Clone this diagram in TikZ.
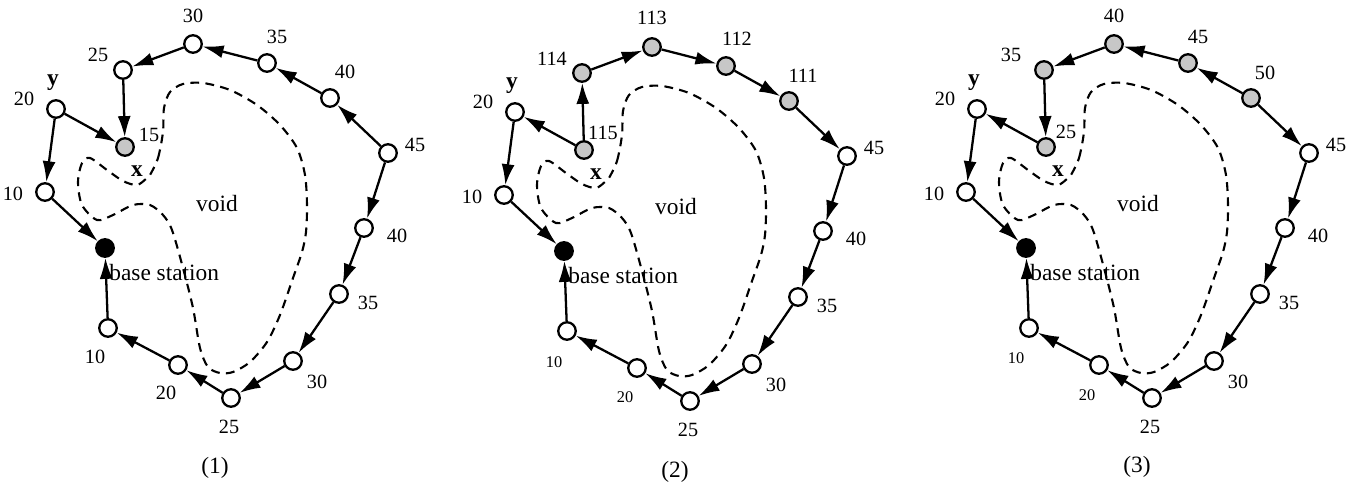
\documentclass[tikz,border=0pt]{standalone}
\usepackage{fontspec}
\setmainfont{Liberation Serif}
\usetikzlibrary{arrows.meta}

\tikzset{
    sensor/.style={circle, draw, line width=1.3pt, fill=white, minimum size=0.35cm, inner sep=0pt},
    hit/.style={sensor, fill=black!22},
    sink/.style={sensor, fill=black},
    ring/.style={sensor},
    link/.style={-{Latex[length=4.2mm,width=2.6mm]}, line width=1.3pt},
    hole/.style={line width=1.2pt, dash pattern=on 5pt off 3.6pt},
    num/.style={inner sep=0pt, font=\fontsize{11.5}{13}\selectfont},
    small/.style={inner sep=0pt, font=\fontsize{9.3}{11}\selectfont},
    big/.style={inner sep=0pt, font=\fontsize{13.3}{15}\selectfont},
    tagtext/.style={inner sep=0pt, font=\fontsize{13.3}{15}\selectfont\bfseries}
}

% common part of the three panels (nodes, void, fixed paths)
\newcommand{\voidfield}{%
    % Void
    \draw[hole] plot[smooth cycle] coordinates {
        (150,175) (158,158) (163,132) (164,108) (170,92) (183,84) (203,83)
        (230,90) (257,105) (280,125) (297,148) (305,175) (307,205) (306,232)
        (302,252) (293,278) (280,315) (267,342) (250,362) (233,372) (220,373)
        (208,367) (200,348) (193,308) (183,268) (172,230) (163,215) (150,205)
        (133,205) (113,215) (97,220) (82,205) (78,182) (82,163) (90,158)
        (107,170) (123,181) (137,185) (147,178)};
    \node[big]     (void) at (217,204) {void};
    \node[tagtext] (x)    at (137,171) {x};
    % Sensors
    \node[sensor] (y)   at (56,109)  {};
    \node[sensor] (l10) at (45,192)  {};
    \node[hit]    (g15) at (125,147) {};
    \node[ring]   (t25) at (123,70)  {};
    \node[ring]   (t30) at (193,44)  {};
    \node[ring]   (t35) at (267,63)  {};
    \node[ring]   (t40) at (330,98)  {};
    \node[sensor] (r45) at (388,153) {};
    \node[sensor] (r40) at (364,228) {};
    \node[sensor] (r35) at (339,294) {};
    \node[sensor] (r30) at (293,361) {};
    \node[sensor] (r25) at (231,398) {};
    \node[sensor] (r20) at (178,365) {};
    \node[sensor] (r10) at (108,328) {};
    \node[sink]   (bs)  at (105,248) {};
    \node[big, anchor=west] (bslabel) at (109,273) {base station};
    % Fixed labels
    \node[tagtext] (ylabel) at (53,83)   {y};
    \node[num]     (n20)    at (24,99)   {20};
    \node[num]     (n10)    at (13,194)  {10};
    \node[num]     (nr45)   at (415,145) {45};
    \node[num]     (nr40)   at (397,236) {40};
    \node[num]     (nr35)   at (368,303) {35};
    \node[num]     (nr30)   at (317,382) {30};
    \node[num]     (nr25)   at (229,427) {25};
    % Fixed paths
    \draw[link] (y) -- (l10);
    \draw[link] (l10) -- (bs);
    \foreach \from/\to in {r45/r40,r40/r35,r35/r30,r30/r25,r25/r20,r20/r10,r10/bs}
        \draw[link] (\from) -- (\to);
}

\begin{document}
\begin{tikzpicture}[x=0.02cm, y=-0.02cm]
    \useasboundingbox (0,0) rectangle (1359,486);

    % Panel (1)
    \begin{scope}[name prefix=p1-]
        \voidfield
        \node[num] (n15) at (149,135) {15};
        \node[num] (n25) at (98,55)   {25};
        \node[num] (n30) at (193,16)  {30};
        \node[num] (n35) at (277,37)  {35};
        \node[num] (n40) at (345,72)  {40};
        \node[num] (b20) at (166,393) {20};
        \node[num] (b10) at (95,357)  {10};
        \foreach \from/\to in {r45/t40,t40/t35,t35/t30,t30/t25,t25/g15,y/g15}
            \draw[link] (\from) -- (\to);
        \node[big] (cap) at (215,468) {(1)};
    \end{scope}

    % Panel (2)
    \begin{scope}[shift={(459,3)}, name prefix=p2-, ring/.style={hit}]
        \voidfield
        \node[num] (n115) at (144,130) {115};
        \node[num] (n114) at (93,56)   {114};
        \node[num] (n113) at (193,15)  {113};
        \node[num] (n112) at (278,36)  {112};
        \node[num] (n111) at (344,73)  {111};
        \node[small] (b20) at (166,394) {20};
        \node[small] (b10) at (95,359)  {10};
        \foreach \from/\to in {g15/t25,t25/t30,t30/t35,t35/t40,t40/r45,g15/y}
            \draw[link] (\from) -- (\to);
        \node[big] (cap) at (216,469) {(2)};
    \end{scope}

    % Panel (3)
    \begin{scope}[shift={(921,0)}, name prefix=p3-, ring/.style={hit}]
        \voidfield
        \node[num] (n25) at (145,132) {25};
        \node[num] (n35) at (90,55)   {35};
        \node[num] (n40) at (193,16)  {40};
        \node[num] (n45) at (277,37)  {45};
        \node[num] (n50) at (344,73)  {50};
        \node[small] (b20) at (166,395) {20};
        \node[small] (b10) at (95,358)  {10};
        \foreach \from/\to in {t40/t35,t35/t30,t30/t25,t25/g15,g15/y,t40/r45}
            \draw[link] (\from) -- (\to);
        \node[big] (cap) at (216,467) {(3)};
    \end{scope}
\end{tikzpicture}
\end{document}
